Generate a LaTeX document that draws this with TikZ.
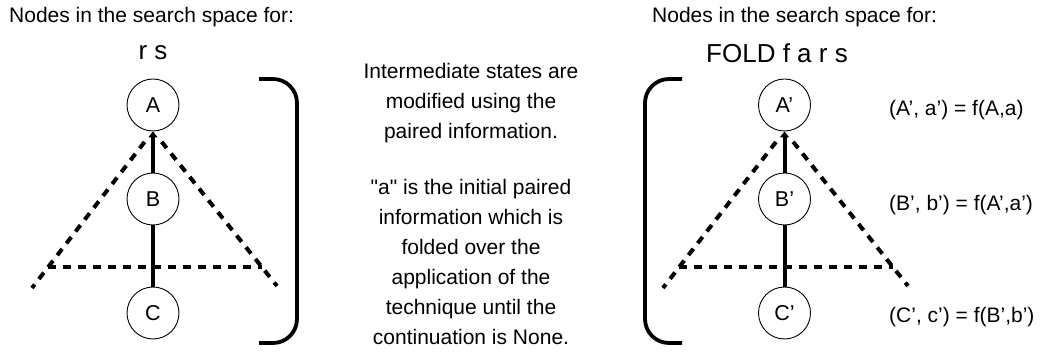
\documentclass[tikz,border=0pt]{standalone}
\usepackage{fontspec}
\setmainfont{Liberation Sans}[Ligatures=TeXOff]
\usetikzlibrary{arrows.meta,calc}
\begin{document}
\begin{tikzpicture}[x=1pt,y=-1pt,
  txt/.style={font=\fontsize{21}{30}\selectfont, inner sep=0pt},
  ttl/.style={font=\fontsize{26}{30}\selectfont, inner sep=0pt},
  st/.style={circle, draw, line width=0.9pt, fill=white, minimum size=52pt, inner sep=0pt, font=\fontsize{21.5}{24}\selectfont},
  edge/.style={line width=4pt},
  dsh/.style={line width=4pt, dash pattern=on 8pt off 7pt},
  brk/.style={line width=3.8pt, rounded corners=24pt}]
\useasboundingbox (0,0) rectangle (1044,352);
% left panel
\node[txt, anchor=west] (hl) at (9,17) {Nodes in the search space for:};
\node[ttl] (tl) at (153,53) {r s};
\coordinate (apl) at (153,131);
\coordinate (ll) at (32,288);
\coordinate (lr) at (277,286);
\coordinate (hl1) at (48,267);
\coordinate (hl2) at (262,267);
\draw[dsh] (hl1) -- (hl2);
\draw[dsh] ($(apl)!0.07!(ll)$) -- (ll);
\draw[dsh] ($(apl)!0.07!(lr)$) -- (lr);
\node[st] (A) at (153,105) {A};
\node[st] (B) at (153,199) {B};
\node[st] (C) at (153,313) {C};
\draw[edge] (C) -- (B);
\draw[edge, -{Triangle[length=6pt,width=9pt]}] (B) -- (A);
\coordinate (b1) at (259,79);
\coordinate (b2) at (297,79);
\coordinate (b3) at (297,343);
\coordinate (b4) at (259,343);
\draw[brk] (b1) -- (b2) -- (b3) -- (b4);
% middle text
\node[txt, align=center] (m1) at (471,103) {Intermediate states are\\modified using the\\paired information.};
\node[txt, align=center] (m2) at (471,262) {"a" is the initial paired\\information which is\\folded over the\\application of the\\technique until the\\continuation is None.};
% right panel
\node[txt, anchor=west] (hr) at (652,17) {Nodes in the search space for:};
\node[ttl] (tr) at (777,53) {FOLD f a r s};
\coordinate (apr) at (784.5,131);
\coordinate (rl) at (663,288);
\coordinate (rr) at (908,286);
\coordinate (hr1) at (679,267);
\coordinate (hr2) at (893,267);
\draw[dsh] (hr1) -- (hr2);
\draw[dsh] ($(apr)!0.07!(rl)$) -- (rl);
\draw[dsh] ($(apr)!0.07!(rr)$) -- (rr);
\node[st] (A2) at (784.5,105) {A’};
\node[st] (B2) at (784.5,199) {B’};
\node[st] (C2) at (784.5,313) {C’};
\draw[edge] (C2) -- (B2);
\draw[edge, -{Triangle[length=6pt,width=9pt]}] (B2) -- (A2);
\coordinate (c1) at (682,79);
\coordinate (c2) at (645,79);
\coordinate (c3) at (645,343);
\coordinate (c4) at (682,343);
\draw[brk] (c1) -- (c2) -- (c3) -- (c4);
\node[txt, anchor=west] (la) at (889,110) {(A’, a’) = f(A,a)};
\node[txt, anchor=west] (lb) at (889,205) {(B’, b’) = f(A’,a’)};
\node[txt, anchor=west] (lc) at (889,317) {(C’, c’) = f(B’,b’)};
\end{tikzpicture}
\end{document}
